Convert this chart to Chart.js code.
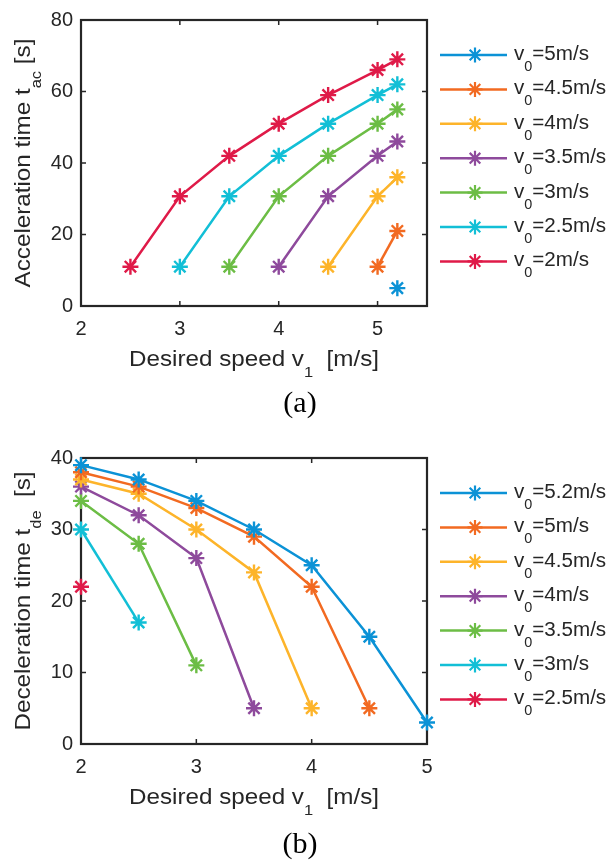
<!DOCTYPE html>
<html>
<head>
<meta charset="utf-8">
<script src="https://cdn.jsdelivr.net/npm/chart.js@4.4.1/dist/chart.umd.min.js"></script>
<style>
body { margin: 0; background: #fff; width: 612px; height: 864px; position: relative; overflow: hidden; }
canvas { position: absolute; left: 0; }
.cap { position: absolute; left: 240px; width: 120px; text-align: center; font: 30px/30px "Liberation Serif", serif; color: #000; }
</style>
</head>
<body>
<canvas id="acc" width="612" height="420"></canvas>
<canvas id="dec" width="612" height="420"></canvas>
<div class="cap" style="top:387px">(a)</div>
<div class="cap" style="top:828px">(b)</div>
<script>
const colors = ['#0b92d6', '#f26a21', '#fdb42a', '#8e4a9c', '#6cbd45', '#12bfd6', '#df1a48']

// (a) acceleration time vs desired speed
const accSpeeds = [2.5, 3, 3.5, 4, 4.5, 5, 5.2]
const accXTicks = [2, 3, 4, 5]
const accV0 = [5, 4.5, 4, 3.5, 3, 2.5, 2]
const tAc50 = [5]
const tAc45 = [11, 21]
const tAc40 = [11, 30.7, 36]
const tAc35 = [11, 30.7, 42, 46]
const tAc30 = [11, 30.7, 42, 51, 55]
const tAc25 = [11, 30.7, 42, 51, 59, 62]
const tAc20 = [11, 30.7, 42, 51, 59, 66, 69]

// (b) deceleration time vs desired speed
const decSpeeds = [2, 2.5, 3, 3.5, 4, 4.5, 5]
const decXTicks = [2, 3, 4, 5]
const decV0 = [5.2, 5, 4.5, 4, 3.5, 3, 2.5]
const tDe52 = [39, 37, 34, 30, 25, 15, 3]
const tDe50 = [38, 36, 33, 29, 22, 5]
const tDe45 = [37, 35, 30, 24, 5]
const tDe40 = [36, 32, 26, 5]
const tDe35 = [34, 28, 11]
const tDe30 = [30, 17]
const tDe25 = [22]

const ink = '#262626'
const sans = '"Liberation Sans", Arial, sans-serif'

// text with subscripts: parts = [[text, isSub], ...]
function drawParts(ctx, parts, x, y, t) {
    const widths = parts.map(p => {
        ctx.font = (p[1] ? t.sub : t.size) + 'px ' + sans
        return ctx.measureText(p[0]).width
    })
    const total = widths.reduce((a, b) => a + b, 0)
    ctx.save()
    ctx.translate(x, y)
    ctx.scale(t.sx, 1)
    let cx = t.center ? -total / 2 : 0
    ctx.textAlign = 'left'
    ctx.textBaseline = 'alphabetic'
    parts.forEach((p, i) => {
        ctx.font = (p[1] ? t.sub : t.size) + 'px ' + sans
        ctx.fillText(p[0], cx, p[1] ? t.drop : 0)
        cx += widths[i]
    })
    ctx.restore()
}

function starAt(ctx, x, y, r) {
    ctx.beginPath()
    for (let k = 0; k < 4; k++) {
        const a = k * Math.PI / 4
        ctx.moveTo(x - Math.cos(a) * r, y - Math.sin(a) * r)
        ctx.lineTo(x + Math.cos(a) * r, y + Math.sin(a) * r)
    }
    ctx.stroke()
}

const titleText = { size: 22, sub: 15, drop: 11, sx: 1.1, center: true }
const legendText = { size: 20, sub: 14, drop: 11, sx: 1.03, center: false }

function framePlugin(xTitle, yTitle, v0s) {
    return {
        id: 'frame',
        beforeDatasetsDraw(chart) {
            const {ctx, chartArea: a, scales: {x, y}} = chart
            ctx.save()
            ctx.strokeStyle = ink
            ctx.lineWidth = 2.2
            ctx.strokeRect(a.left, a.top, a.right - a.left, a.bottom - a.top)
            ctx.lineWidth = 1.5
            ctx.beginPath()
            x.ticks.forEach(t => {
                const px = x.getPixelForValue(t.value)
                ctx.moveTo(px, a.bottom); ctx.lineTo(px, a.bottom - 5)
                ctx.moveTo(px, a.top); ctx.lineTo(px, a.top + 5)
            })
            y.ticks.forEach(t => {
                const py = y.getPixelForValue(t.value)
                ctx.moveTo(a.left, py); ctx.lineTo(a.left + 5, py)
                ctx.moveTo(a.right, py); ctx.lineTo(a.right - 5, py)
            })
            ctx.stroke()
            ctx.restore()
        },
        afterDraw(chart) {
            const {ctx, chartArea: a} = chart
            ctx.save()
            ctx.fillStyle = ink
            drawParts(ctx, xTitle, (a.left + a.right) / 2, a.bottom + 60, titleText)
            ctx.save()
            ctx.translate(29.5, (a.top + a.bottom) / 2)
            ctx.rotate(-Math.PI / 2)
            drawParts(ctx, yTitle, 0, 0, titleText)
            ctx.restore()

            // legend
            chart.data.datasets.forEach((ds, i) => {
                const ly = 55 + i * 34.4
                ctx.strokeStyle = ds.borderColor
                ctx.lineWidth = 2.5
                ctx.beginPath()
                ctx.moveTo(440, ly); ctx.lineTo(507, ly)
                ctx.stroke()
                ctx.lineWidth = 2.2
                starAt(ctx, 475, ly, 7.5)
                ctx.fillStyle = ink
                drawParts(ctx, [['v'], ['0', true], ['=' + v0s[i] + 'm/s']], 514, ly + 5, legendText)
            })
            ctx.restore()
        }
    }
}

function makeChart(id, top, datasets, xMax, xTicks, yMax, yStep, xTitle, yTitle, v0s) {
    const cv = document.getElementById(id)
    cv.style.top = top + 'px'
    return new Chart(cv, {
        type: 'line',
        data: { datasets },
        options: {
            responsive: false,
            animation: false,
            clip: false,
            layout: { padding: { top: 15, right: 185, left: 0, bottom: 0 } },
            plugins: { legend: { display: false }, tooltip: { enabled: false } },
            scales: {
                x: {
                    type: 'linear', min: 2, max: xMax,
                    afterFit: s => { s.height = 114 },
                    afterBuildTicks: s => { s.ticks = xTicks.map(v => ({ value: v })) },
                    grid: { display: false, drawTicks: false },
                    border: { display: false },
                    ticks: { autoSkip: false, maxRotation: 0, padding: 11, color: ink, font: { family: sans, size: 20 } }
                },
                y: {
                    min: 0, max: yMax,
                    afterFit: s => { s.width = 81 },
                    grid: { display: false, drawTicks: false },
                    border: { display: false },
                    ticks: { stepSize: yStep, padding: 8, color: ink, font: { family: sans, size: 20 } }
                }
            }
        },
        plugins: [framePlugin(xTitle, yTitle, v0s)]
    })
}

function series(xs, ys, fromEnd, i, v0) {
    const sx = fromEnd ? xs.slice(xs.length - ys.length) : xs.slice(0, ys.length)
    return {
        label: 'v0=' + v0 + 'm/s',
        data: sx.map((x, k) => ({ x, y: ys[k] })),
        borderColor: colors[i],
        backgroundColor: colors[i],
        borderWidth: 2.5,
        pointStyle: 'star',
        pointRadius: 8,
        pointBorderWidth: 2.4,
        tension: 0
    }
}

const accSets = [tAc50, tAc45, tAc40, tAc35, tAc30, tAc25, tAc20]
    .map((t, i) => series(accSpeeds, t, true, i, accV0[i]))
const decSets = [tDe52, tDe50, tDe45, tDe40, tDe35, tDe30, tDe25]
    .map((t, i) => series(decSpeeds, t, false, i, decV0[i]))

makeChart('acc', 0, accSets, 5.5, accXTicks, 80, 20,
    [['Desired speed v'], ['1', true], ['  [m/s]']],
    [['Acceleration time t'], ['ac', true], [' [s]']], accV0)
makeChart('dec', 438, decSets, 5, decXTicks, 40, 10,
    [['Desired speed v'], ['1', true], ['  [m/s]']],
    [['Deceleration time t'], ['de', true], ['  [s]']], decV0)
</script>
</body>
</html>
